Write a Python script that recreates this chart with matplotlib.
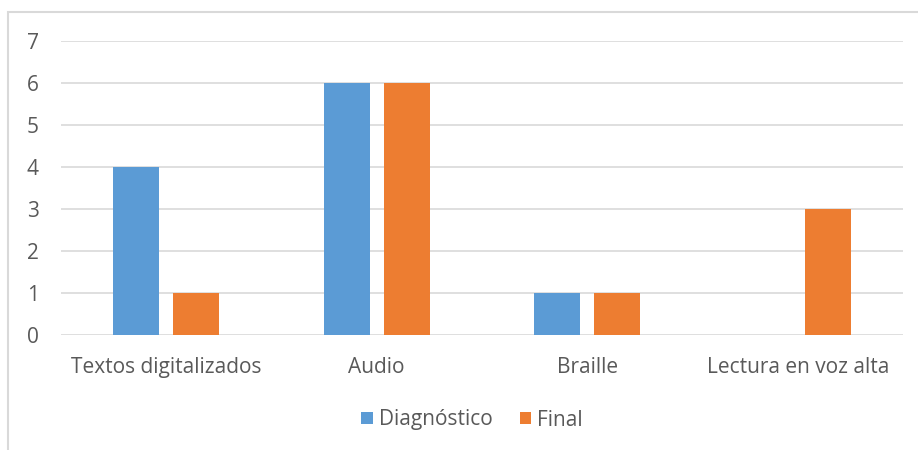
import matplotlib
matplotlib.use("Agg")
import matplotlib.pyplot as plt
from matplotlib.patches import Rectangle
import numpy as np

categories = ["Textos digitalizados", "Audio", "Braille", "Lectura en voz alta"]
diagnostico = [4, 6, 1, 0]
final = [1, 6, 1, 3]
series_names = ["Diagnóstico", "Final"]
yticks = [0, 1, 2, 3, 4, 5, 6, 7]

blue = "#5B9BD5"
orange = "#ED7D31"
txt = "#595959"
plt.rcParams['font.family'] = ['Open Sans', 'DejaVu Sans']

fig = plt.figure(figsize=(9.18, 4.5), dpi=100)
ax = fig.add_axes([61/918, 1-335/450, (903-61)/918, (335-41)/450])

x = np.arange(len(categories))
w = 0.2185
off = 0.1425
ax.bar(x - off, diagnostico, width=w, color=blue, label=series_names[0], zorder=3)
ax.bar(x + off, final, width=w, color=orange, label=series_names[1], zorder=3)

ax.set_xlim(-0.5, len(categories) - 0.5)
ax.set_ylim(0, 7)
ax.set_yticks(yticks)
ax.set_xticks(x)
ax.set_xticklabels(categories)
ax.tick_params(axis='both', length=0, labelsize=15, colors=txt)
ax.tick_params(axis='y', pad=16)
ax.tick_params(axis='x', pad=16)
ax.grid(axis='y', color='#d9d9d9', lw=1.2, zorder=0)
for s in ax.spines.values():
    s.set_visible(False)

leg = fig.legend(loc='center', bbox_to_anchor=(472/918, 1-420/450), ncol=2, frameon=False,
                 fontsize=15, handlelength=0.55, handleheight=0.55, handletextpad=0.3,
                 columnspacing=1.3, labelcolor=txt)

fig.patches.append(Rectangle((8/918, -0.1), 1.2, 1 - 12/450 + 0.1, transform=fig.transFigure,
                             fill=False, edgecolor='#d9d9d9', lw=1.5))

fig.savefig("out.png", dpi=100)
